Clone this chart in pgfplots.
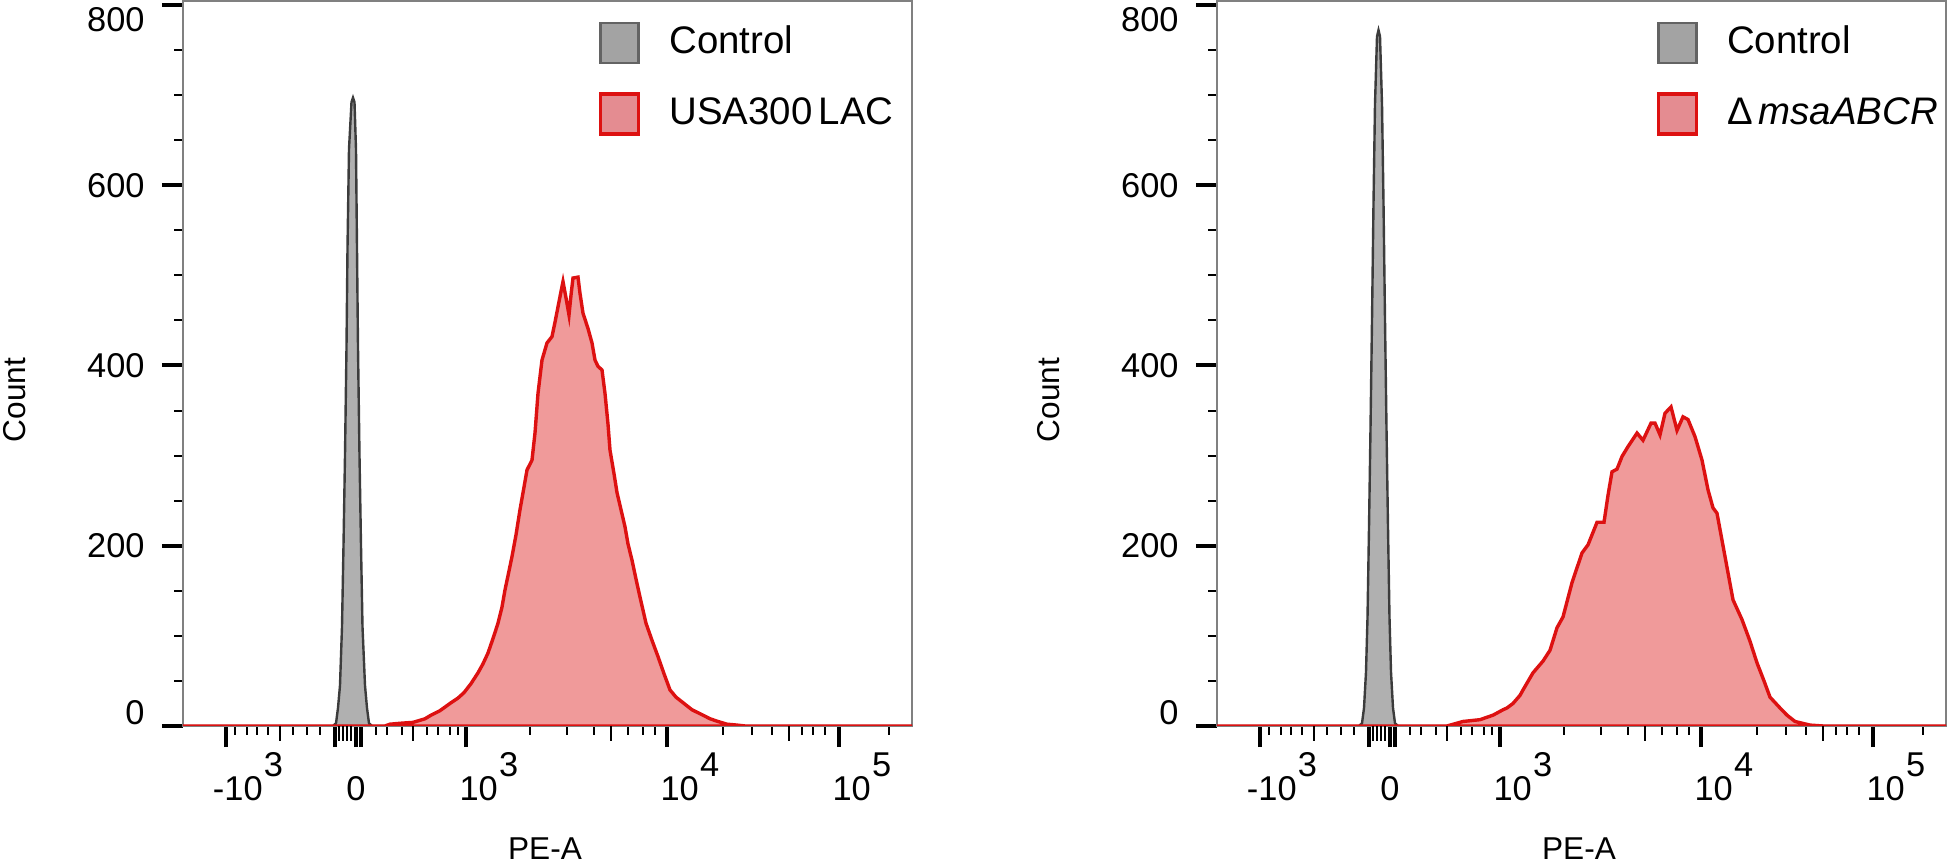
\documentclass[border=0pt]{standalone}
\usepackage{pgfplots}
\pgfplotsset{compat=1.18}
\usepackage{fontspec}
\setmainfont{Liberation Sans}
\definecolor{redline}{HTML}{DD1111}
\definecolor{redfill}{HTML}{F09A9A}
\definecolor{redleg}{HTML}{E48C91}
\definecolor{grayfill}{HTML}{B0B0B0}
\definecolor{grayleg}{HTML}{A3A3A3}
\definecolor{grayline}{HTML}{3C3C3C}
\definecolor{frame}{HTML}{808080}
\newcommand{\tfont}{\fontsize{8.6pt}{10pt}\selectfont}
\newcommand{\lfont}{\fontsize{7.9pt}{9pt}\selectfont}
\newcommand{\pw}[2]{\makebox[0pt][l]{\hspace{-1.6pt}#1\hspace{0.3pt}\raisebox{6.1pt}{#2}}}
\newcommand{\npw}[2]{\makebox[0pt][l]{\hspace{-0.4pt}\llap{-}#1\hspace{0.3pt}\raisebox{6.1pt}{#2}}}

\pgfplotstableread{
x y
183 0
385 0
390 2
400 3
413 4
416 5
425 8
431 12
440 17
450 25
458 31
464 37
471 47
478 59
483 69
488 81
493 97
498 114
502 132
505 151
509 172
512 188
516 212
520 240
524 265
527 284
532 295
535 325
538 369
542 406
547 425
552 432
555 448
558 465
561 482
563 493
566 475
569 456
571 478
573 497
578 498
580 480
583 458
588 441
592 425
595 406
598 399
602 395
605 369
608 335
610 306
614 280
617 259
621 240
625 221
628 202
632 184
636 163
640 143
646 114
652 95
658 77
664 58
670 40
676 32
684 25
692 18
703 12
710 8
718 5
727 2
737 1
745 0
912 0
}\redA

\pgfplotstableread{
x y
183 0
333 0
336 3
338 20
340 45
342 110
343.5 200
345 300
346.5 420
347.5 530
349 640
351.5 692
353 697
354.5 692
356 640
357 530
358 420
359.5 300
361 200
362.5 110
365 45
367 20
369 3
372 0
912 0
}\grayA

\pgfplotstableread{
x y
183 0
413 0
429 5
446 7
459 12
469 18
473 20
479 25
486 34
489 40
499 59
509 72
516 84
523 109
529 121
538 159
548 192
554 201
563 226
570 226
574 256
578 282
583 285
588 299
594 310
603 325
609 317
617 336
621 336
626 323
631 347
637 354
643 328
649 343
654 340
661 321
668 295
674 262
679 242
683 236
688 206
693 176
699 140
708 118
716 94
723 70
730 50
736 32
746 20
753 12
761 5
776 1
789 0
912 0
}\redB

\pgfplotstableread{
x y
183 0
325 0
328 3
330 20
332 60
333.5 120
335 220
336.5 330
338 450
339.5 580
341 690
343 765
344.5 772
346 765
348 690
349.5 580
351 450
352.5 330
354 220
355.5 120
357 60
359 20
361 3
364 0
912 0
}\grayB

\pgfplotsset{
  flow/.style={
    scale only axis,
    width=182.25pt, height=181.25pt,
    anchor=south west,
    xmin=183, xmax=912, ymin=0, ymax=804.4,
    axis line style={frame, line width=0.5pt},
    tick pos=left,
    tick align=outside,
    major tick length=5.3pt,
    minor tick length=2.2pt,
    major tick style={line width=1pt, black},
    minor tick style={line width=0.5pt, black},
    xtick={226,335,356,361,466,667,839},
    xticklabels={{\npw{10}{3}},{},{\makebox[0pt][c]{0}},{},{\pw{10}{3}},{\pw{10}{4}},{\pw{10}{5}}},
    minor xtick={235,247,257,268,293,307,320,376,387,402,427,438,450,458,530,567,594,628,643,655,723,752,772,802,813,825,889},
    extra x ticks={280,339,343,347,351,413,611,789},
    extra x tick labels={},
    extra x tick style={major tick length=3.75pt, major tick style={line width=0.7pt, black}},
    ytick={0,200,400,600,800},
    yticklabels={{\raisebox{3.25pt}[\height][\depth]{0}},200,400,600,{\raisebox{-3.6pt}[\height][\depth]{800}}},
    minor ytick={50,100,150,250,300,350,450,500,550,650,700,750},
    xticklabel style={anchor=base, inner sep=0pt, yshift=-13.45pt, font=\tfont},
    yticklabel style={anchor=east, inner sep=0pt, xshift=-4.1pt, font=\tfont},
    xlabel={PE-A},
    xlabel style={at={(axis description cs:0.4966,0)}, anchor=base, inner sep=0pt, yshift=-33.5pt, font=\lfont},
    ylabel={Count},
    ylabel style={at={(axis description cs:-0.2305,0.4497)}, anchor=center, inner sep=0pt, font=\lfont},
    legend style={draw=none, fill=none, inner sep=0pt, row sep=7pt, column sep=7.25pt,
      font=\fontsize{9.6pt}{11pt}\selectfont, nodes={inner sep=0pt}},
    legend cell align=left,
    legend image code/.code={\draw[#1] (0pt,-5pt) rectangle (9.5pt,5pt);},
  },
  grayser/.style={draw=grayline, line width=0.6pt, fill=grayfill, legend image post style={fill=grayleg, draw=grayline!80}},
  redser/.style={draw=redline, line width=0.85pt, fill=redfill, legend image post style={fill=redleg}},
}

\begin{document}
\begin{tikzpicture}
\useasboundingbox (0,0) rectangle (487.5pt,216pt);
\begin{axis}[flow, at={(45.75pt,34.5pt)},
  legend style={at={(axis description cs:0.5695,1)}, anchor=north west, yshift=-5pt}]
\addplot[grayser] table[x=x,y=y] {\grayA} \closedcycle;
\addlegendentry{Control}
\addplot[redser] table[x=x,y=y] {\redA} \closedcycle;
\addlegendentry{USA300\,LAC}
\end{axis}
\begin{axis}[flow, at={(304.25pt,34.5pt)},
  legend style={at={(axis description cs:0.602,1)}, anchor=north west, yshift=-5pt}]
\addplot[grayser] table[x=x,y=y] {\grayB} \closedcycle;
\addlegendentry{Control}
\addplot[redser] table[x=x,y=y] {\redB} \closedcycle;
\addlegendentry{Δ\hspace{1.5pt}\textit{msaABCR}}
\end{axis}
\end{tikzpicture}
\end{document}
